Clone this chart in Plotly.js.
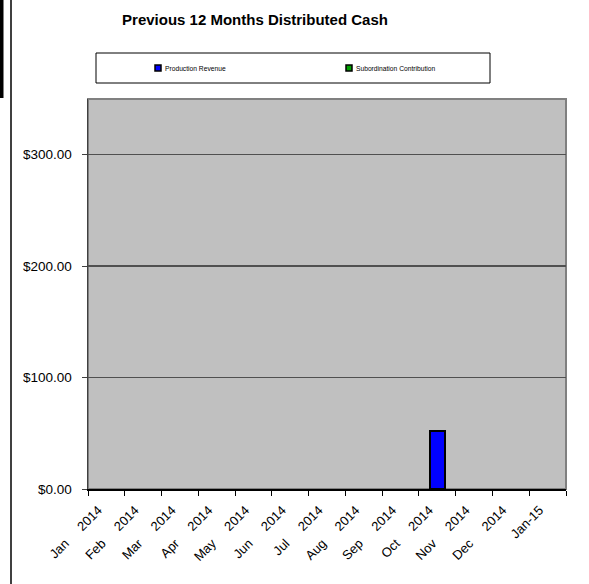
<!DOCTYPE html>
<html>
<head>
<meta charset="utf-8">
<script src="https://cdn.plot.ly/plotly-3.0.1.min.js"></script>
<style>
html,body{margin:0;padding:0;background:#fff;}
#chart{width:589px;height:584px;}
</style>
</head>
<body>
<div id="chart"></div>
<script>
const categories = ["Jan 2014","Feb 2014","Mar 2014","Apr 2014","May 2014","Jun 2014","Jul 2014","Aug 2014","Sep 2014","Oct 2014","Nov 2014","Dec 2014","Jan-15"];
const xTickLabels = ["Jan\u00a0\u00a0\u00a0\u00a0\u00a02014","Feb\u00a0\u00a0\u00a0\u00a0\u00a02014","Mar\u00a0\u00a0\u00a0\u00a0\u00a02014","Apr\u00a0\u00a0\u00a0\u00a0\u00a02014","May\u00a0\u00a0\u00a0\u00a0\u00a02014","Jun\u00a0\u00a0\u00a0\u00a0\u00a02014","Jul\u00a0\u00a0\u00a0\u00a0\u00a02014","Aug\u00a0\u00a0\u00a0\u00a0\u00a02014","Sep\u00a0\u00a0\u00a0\u00a0\u00a02014","Oct\u00a0\u00a0\u00a0\u00a0\u00a02014","Nov\u00a0\u00a0\u00a0\u00a0\u00a02014","Dec\u00a0\u00a0\u00a0\u00a0\u00a02014","Jan-15"];
const productionRevenue = [0,0,0,0,0,0,0,0,0,52.5,0,0,0];
const subordinationContribution = [0,0,0,0,0,0,0,0,0,0,0,0,0];
const seriesNames = ["Production Revenue","Subordination Contribution"];
const yTickValues = [0,100,200,300];
const yTickLabels = ["$0.00","$100.00","$200.00","$300.00"];
const titleText = "Previous 12 Months Distributed Cash";

const W = 589, H = 584;
const L = 88, R = 566, T = 99, B = 489;
const pw = R - L, ph = B - T;
const px = x => (x - L) / pw;
const py = y => (B - y) / ph;
const FONT = 'Arial, Liberation Sans, sans-serif';

const traces = [
  {type:'bar', x:categories, y:productionRevenue, name:seriesNames[0],
   width:0.41, marker:{color:'#0000ff', line:{color:'#000000', width:productionRevenue.map(v => v ? 2 : 0)}}, hoverinfo:'skip'},
  {type:'bar', x:categories, y:subordinationContribution, name:seriesNames[1],
   width:0.41, marker:{color:'#00a000', line:{color:'#000000', width:subordinationContribution.map(v => v ? 2 : 0)}}, hoverinfo:'skip'}
];

const shapes = [
  {type:'rect', xref:'paper', yref:'paper', x0:0, x1:1, y0:0, y1:1, line:{color:'#808080', width:2}, layer:'below'},
  {type:'rect', xref:'paper', yref:'paper', x0:px(96), x1:px(490), y0:py(83), y1:py(53), line:{color:'#000000', width:1}, fillcolor:'#ffffff'},
  {type:'rect', xref:'paper', yref:'paper', x0:px(155), x1:px(161), y0:py(71), y1:py(65), line:{color:'#000000', width:1.5}, fillcolor:'#0000ff'},
  {type:'rect', xref:'paper', yref:'paper', x0:px(346), x1:px(352), y0:py(71), y1:py(65), line:{color:'#000000', width:1.5}, fillcolor:'#00a000'},
  {type:'rect', xref:'paper', yref:'paper', x0:px(0), x1:px(3.5), y0:py(98), y1:py(0), line:{width:0}, fillcolor:'#000000'},
  {type:'line', xref:'paper', yref:'paper', x0:px(11), x1:px(11), y0:py(0), y1:py(584), line:{color:'#000000', width:1.5}}
];

const annotations = [
  {xref:'paper', yref:'paper', x:px(162.5), y:py(68), xanchor:'left', yanchor:'middle', text:seriesNames[0], showarrow:false, font:{family:FONT, size:6.7, color:'#000'}},
  {xref:'paper', yref:'paper', x:px(353.5), y:py(68), xanchor:'left', yanchor:'middle', text:seriesNames[1], showarrow:false, font:{family:FONT, size:6.7, color:'#000'}}
];

const layout = {
  width:W, height:H,
  margin:{l:L, r:W-R, t:T, b:H-B, pad:0},
  paper_bgcolor:'#ffffff', plot_bgcolor:'#c0c0c0',
  title:{text:'<b>'+titleText+'</b>', x:255/W, xanchor:'center', y:1-20/H, yanchor:'middle', font:{family:FONT, size:15, color:'#000'}},
  showlegend:false,
  barmode:'stack',
  font:{family:FONT, size:13, color:'#000'},
  xaxis:{type:'category', tickson:'boundaries', ticks:'outside', ticklen:5, tickcolor:'#000', tickwidth:1,
         tickvals:categories, ticktext:xTickLabels,
         tickangle:-45, ticklabelstandoff:7, ticklabelshift:-8,
         showline:true, linecolor:'#000', linewidth:1.5, showgrid:false, zeroline:false,
         tickfont:{family:FONT, size:13, color:'#000'}, fixedrange:true},
  yaxis:{range:[0,350], tickvals:yTickValues, ticktext:yTickLabels, ticks:'outside', ticklen:5, tickcolor:'#404040',
         showline:true, linecolor:'#404040', linewidth:1.5, showgrid:true, gridcolor:'#505050', gridwidth:1.3,
         zeroline:false, ticklabelstandoff:7,
         tickfont:{family:FONT, size:13.5, color:'#000'}, fixedrange:true},
  shapes:shapes,
  annotations:annotations
};

Plotly.newPlot('chart', traces, layout, {staticPlot:true, displayModeBar:false});
</script>
</body>
</html>
